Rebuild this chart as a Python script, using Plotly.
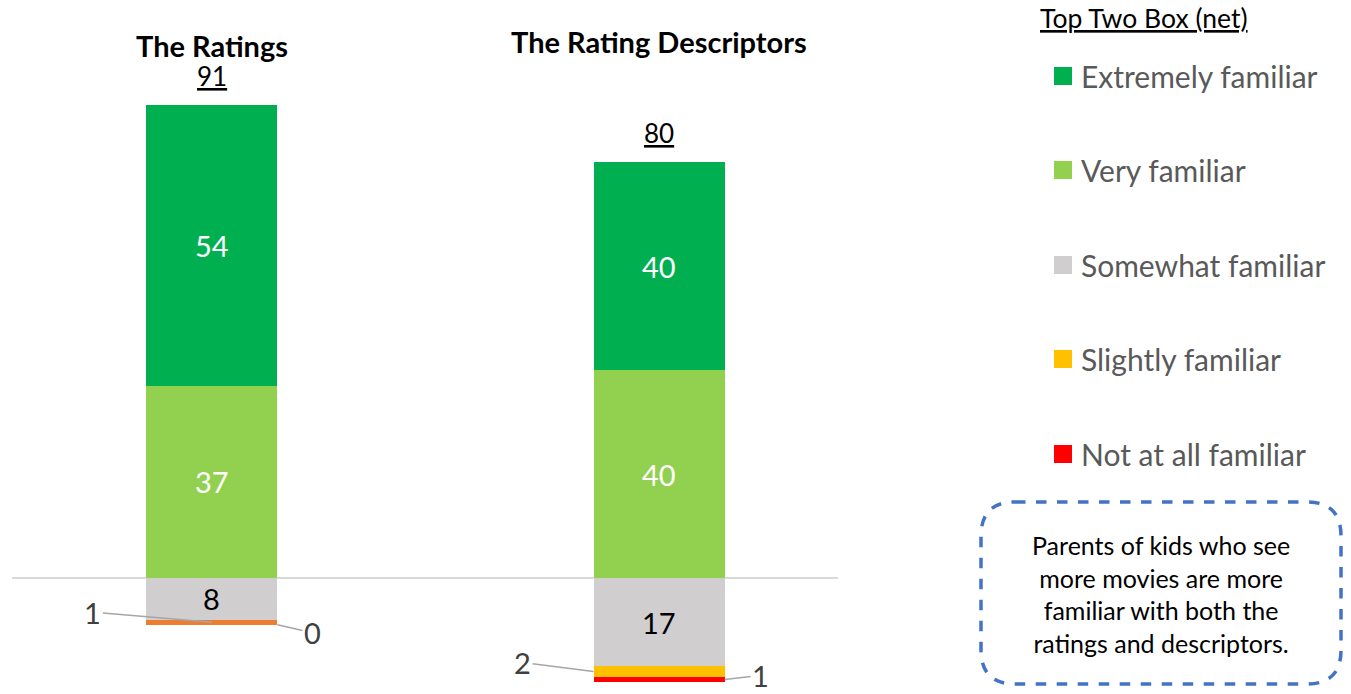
import plotly.graph_objects as go

# ---- data ----
categories = ["The Ratings", "The Rating Descriptors"]
extremely = [54, 40]
very = [37, 40]
somewhat = [8, 17]
slightly = [1, 2]
not_at_all = [0, 1]
totals = [91, 80]
legend_labels = ["Extremely familiar", "Very familiar", "Somewhat familiar",
                 "Slightly familiar", "Not at all familiar"]
callout_text = ("Parents of kids who see<br>more movies are more<br>"
                "familiar with both the<br>ratings and descriptors.")
legend_title = "Top Two Box (net)"

# ---- styles ----
C_EXT = "#00B050"
C_VERY = "#92D050"
C_SOME = "#D0CECE"
C_SLIGHT = ["#ED7D31", "#FFC000"]
C_NOT = "#FF0000"
legend_colors = [C_EXT, C_VERY, C_SOME, "#FFC000", C_NOT]
FONT = "Lato"
W, H = 1351, 694
BAR_W = 0.293
xs = list(range(len(categories)))


def px(x):
    return x / W


def py(y):
    return 1 - y / H


fig = go.Figure()
fig.add_bar(x=xs, y=very, marker_color=C_VERY, width=BAR_W, name="Very familiar")
fig.add_bar(x=xs, y=extremely, marker_color=C_EXT, width=BAR_W, name="Extremely familiar")
fig.add_bar(x=xs, y=[-v for v in somewhat], marker_color=C_SOME, width=BAR_W, name="Somewhat familiar")
fig.add_bar(x=xs, y=[-v for v in slightly], marker_color=C_SLIGHT, width=BAR_W, name="Slightly familiar")
fig.add_bar(x=xs, y=[-v for v in not_at_all], marker_color=C_NOT, width=BAR_W, name="Not at all familiar")
for tr in fig.data:
    tr.marker.line.width = 0
    tr.hoverinfo = "skip"

ann = []
LBL = 29
for i in xs:
    ann.append(dict(x=i, y=very[i] / 2, text=str(very[i]), showarrow=False,
                    font=dict(color="white", size=LBL)))
    ann.append(dict(x=i, y=very[i] + extremely[i] / 2, text=str(extremely[i]), showarrow=False,
                    font=dict(color="white", size=LBL)))
    ann.append(dict(x=i, y=-somewhat[i] / 2, text=str(somewhat[i]), showarrow=False,
                    font=dict(color="black", size=LBL)))
    # totals
    ann.append(dict(x=i, y=totals[i], text="<u>%d</u>" % totals[i], showarrow=False,
                    yanchor="middle", yshift=29, font=dict(color="black", size=26)))
    # category titles
    ann.append(dict(x=i, y=1, yref="paper", text="<b>%s</b>" % categories[i], showarrow=False,
                    yanchor="middle", yshift=-(45 if i == 0 else 41),
                    font=dict(color="black", size=29)))

# small-value labels with leader lines
lead = dict(showarrow=True, arrowhead=0, arrowwidth=1.5, arrowcolor="#A6A6A6",
            xanchor="center", yanchor="middle",
            font=dict(color="#404040", size=LBL))
ann.append(dict(x=0, y=-somewhat[0] - slightly[0] / 2, text=str(slightly[0]),
                ax=-119, ay=-10, **lead))
ann.append(dict(x=0 + BAR_W / 2, y=-somewhat[0] - slightly[0] - not_at_all[0], text=str(not_at_all[0]),
                ax=35, ay=8, **lead))
ann.append(dict(x=1 - BAR_W / 2, y=-somewhat[1] - slightly[1] / 2, text=str(slightly[1]),
                ax=-71, ay=-9, **lead))
ann.append(dict(x=1 + BAR_W / 2, y=-somewhat[1] - slightly[1] - not_at_all[1] / 2, text=str(not_at_all[1]),
                ax=36, ay=-4, **lead))

shapes = []
# legend
ann.append(dict(x=px(1038), y=py(18), xref="paper", yref="paper", xanchor="left", yanchor="middle",
                text="<u>%s</u>" % legend_title, showarrow=False,
                font=dict(color="black", size=26.5)))
legend_y = [76, 170, 265, 359, 454]
for lab, col, ly in zip(legend_labels, legend_colors, legend_y):
    shapes.append(dict(type="rect", xref="paper", yref="paper",
                       x0=px(1054), x1=px(1072), y0=py(ly - 9), y1=py(ly + 9),
                       fillcolor=col, line=dict(width=0)))
    ann.append(dict(x=px(1079), y=py(ly), xref="paper", yref="paper", xanchor="left", yanchor="middle",
                    text=lab, showarrow=False, font=dict(color="#595959", size=30)))

# callout box (rounded dashed)
x0, x1, y0, y1, r = 981, 1341, 502, 684, 34
rx, ry = r / W, r / H
X0, X1, Y0, Y1 = px(x0), px(x1), py(y1), py(y0)
path = (f"M {X0+rx},{Y1} L {X1-rx},{Y1} Q {X1},{Y1} {X1},{Y1-ry} "
        f"L {X1},{Y0+ry} Q {X1},{Y0} {X1-rx},{Y0} L {X0+rx},{Y0} "
        f"Q {X0},{Y0} {X0},{Y0+ry} L {X0},{Y1-ry} Q {X0},{Y1} {X0+rx},{Y1} Z")
shapes.append(dict(type="path", xref="paper", yref="paper", path=path,
                   line=dict(color="#4472C4", width=3.5, dash="dash")))
ann.append(dict(x=px(1161), y=py(594), xref="paper", yref="paper", text=callout_text,
                xanchor="center", yanchor="middle",
                showarrow=False, align="center", font=dict(color="black", size=25)))

fig.update_layout(
    width=W, height=H,
    margin=dict(l=0, r=0, t=0, b=0, pad=0),
    paper_bgcolor="white", plot_bgcolor="white",
    barmode="relative", bargap=0,
    showlegend=False,
    font=dict(family=FONT),
    annotations=ann, shapes=shapes,
    xaxis=dict(domain=[px(12), px(838)], range=[-0.447, 1.4], visible=False, fixedrange=True),
    yaxis=dict(domain=[0, 1], range=[-(H - 578) / 5.2, 578 / 5.2], showgrid=False,
               zeroline=True, zerolinecolor="#D9D9D9", zerolinewidth=1.5,
               showticklabels=False, fixedrange=True),
)

fig.write_html("out.html", post_script="document.body.style.margin='0';",
               config={"displayModeBar": False})
